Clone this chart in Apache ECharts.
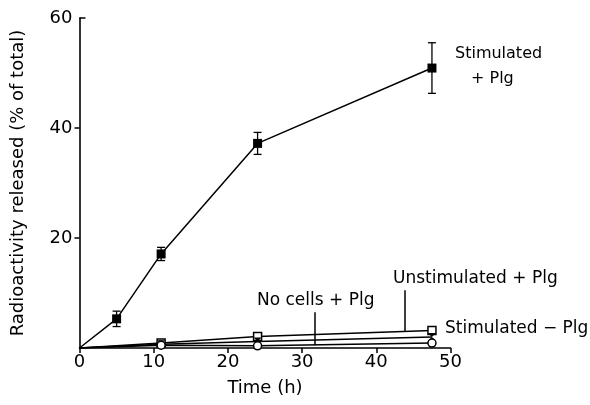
<!DOCTYPE html>
<html>
<head>
<meta charset="utf-8">
<script src="https://cdn.jsdelivr.net/npm/echarts@6/dist/echarts.min.js"></script>
<style>html,body{margin:0;padding:0;background:#fff}#c{width:590px;height:405px}</style>
</head>
<body>
<div id="c"></div>
<script>
var timeStim = [0, 5, 11, 24, 47.5];
var stimPlg = [0, 5.3, 17.1, 37.2, 50.9];
var stimPlgErr = [0, 1.4, 1.2, 2.0, 4.6];
var timeLow = [0, 11, 24, 47.5];
var unstimPlg = [0, 0.9, 2.1, 3.2];
var stimNoPlg = [0, 0.7, 1.2, 2.0];
var noCellsPlg = [0, 0.5, 0.4, 0.9];
var xTicks = [0, 10, 20, 30, 40, 50];
var yTicks = [20, 40, 60];

var FONT = 'DejaVu Sans';
function pts(xs, ys) {
  return xs.map(function (x, i) {
    return i === 0 ? { value: [x, ys[i]], symbolSize: 0 } : { value: [x, ys[i]] };
  });
}
var errData = timeStim.map(function (x, i) { return [x, stimPlg[i] - stimPlgErr[i], stimPlg[i] + stimPlgErr[i]]; }).filter(function (d, i) { return stimPlgErr[i] > 0; });

var chart = echarts.init(document.getElementById('c'));
var axisCommon = {
  axisLine: { lineStyle: { color: '#000', width: 1.6 } },
  axisTick: { inside: false, length: 5, lineStyle: { color: '#000', width: 1.5 } },
  splitLine: { show: false },
  axisLabel: { color: '#000', fontFamily: FONT, fontSize: 18 },
  nameTextStyle: { color: '#000', fontFamily: FONT, fontSize: 18 }
};
chart.setOption({
  animation: false,
  backgroundColor: '#fff',
  grid: { left: 79.5, right: 139.5, top: 18, bottom: 57 },
  xAxis: Object.assign({}, axisCommon, {
    type: 'value', min: 0, max: 50, interval: 10,
    name: 'Time (h)', nameLocation: 'middle', nameGap: 31,
    axisLabel: Object.assign({}, axisCommon.axisLabel, { margin: 5, formatter: function (v) { return xTicks.indexOf(v) >= 0 ? String(v) : ''; } })
  }),
  yAxis: Object.assign({}, axisCommon, {
    type: 'value', min: 0, max: 60, interval: 20,
    name: 'Radioactivity released (% of total)', nameLocation: 'middle', nameGap: 52,
    axisTick: Object.assign({}, axisCommon.axisTick, { customValues: [20, 40] }),
    axisLabel: Object.assign({}, axisCommon.axisLabel, { margin: 7, customValues: yTicks })
  }),
  series: [
    {
      type: 'line', name: 'Stimulated + Plg', data: pts(timeStim, stimPlg),
      symbol: 'rect', symbolSize: 9, itemStyle: { color: '#000' },
      lineStyle: { color: '#000', width: 1.5 }, z: 3,
      markLine: {
        silent: true, symbol: 'none', label: { show: false },
        lineStyle: { color: '#000', width: 1.5, type: 'solid' },
        data: [
          [{ coord: [0, 60] }, { coord: [0.8, 60] }],
          [{ coord: [43.9, 3.05] }, { coord: [43.9, 10.5] }],
          [{ coord: [31.7, 0.5] }, { coord: [31.7, 6.5] }]
        ]
      }
    },
    {
      type: 'custom', name: 'err', data: errData,
      renderItem: function (params, api) {
        var x = api.value(0);
        var lo = api.coord([x, api.value(1)]);
        var hi = api.coord([x, api.value(2)]);
        var w = 4;
        var st = { stroke: '#000', lineWidth: 1.3 };
        return { type: 'group', children: [
          { type: 'line', shape: { x1: lo[0], y1: lo[1], x2: hi[0], y2: hi[1] }, style: st },
          { type: 'line', shape: { x1: lo[0] - w, y1: lo[1], x2: lo[0] + w, y2: lo[1] }, style: st },
          { type: 'line', shape: { x1: hi[0] - w, y1: hi[1], x2: hi[0] + w, y2: hi[1] }, style: st }
        ] };
      },
      z: 2
    },
    {
      type: 'line', name: 'Unstimulated + Plg', data: pts(timeLow, unstimPlg),
      symbol: 'rect', symbolSize: 8, itemStyle: { color: '#fff', borderColor: '#000', borderWidth: 1.5 },
      lineStyle: { color: '#000', width: 1.5 }
    },
    {
      type: 'line', name: 'Stimulated - Plg', data: pts(timeLow, stimNoPlg),
      symbol: 'path://M0,0 L10,0 L0,10 L10,10 Z', symbolSize: 8, itemStyle: { color: '#000' },
      lineStyle: { color: '#000', width: 1.5 }
    },
    {
      type: 'line', name: 'No cells + Plg', data: pts(timeLow, noCellsPlg),
      symbol: 'circle', symbolSize: 8, itemStyle: { color: '#fff', borderColor: '#000', borderWidth: 1.5 },
      lineStyle: { color: '#000', width: 1.5 }
    }
  ],
  graphic: [
    { type: 'text', left: 455, top: 46, style: { text: 'Stimulated', font: '16px "' + FONT + '"', fill: '#000' } },
    { type: 'text', left: 471, top: 71, style: { text: '+ Plg', font: '16px "' + FONT + '"', fill: '#000' } },
    { type: 'text', left: 393, top: 270, style: { text: 'Unstimulated + Plg', font: '17px "' + FONT + '"', fill: '#000' } },
    { type: 'text', left: 257, top: 292, style: { text: 'No cells + Plg', font: '17px "' + FONT + '"', fill: '#000' } },
    { type: 'text', left: 445, top: 320, style: { text: 'Stimulated − Plg', font: '17px "' + FONT + '"', fill: '#000' } }
  ]
});
</script>
</body>
</html>
